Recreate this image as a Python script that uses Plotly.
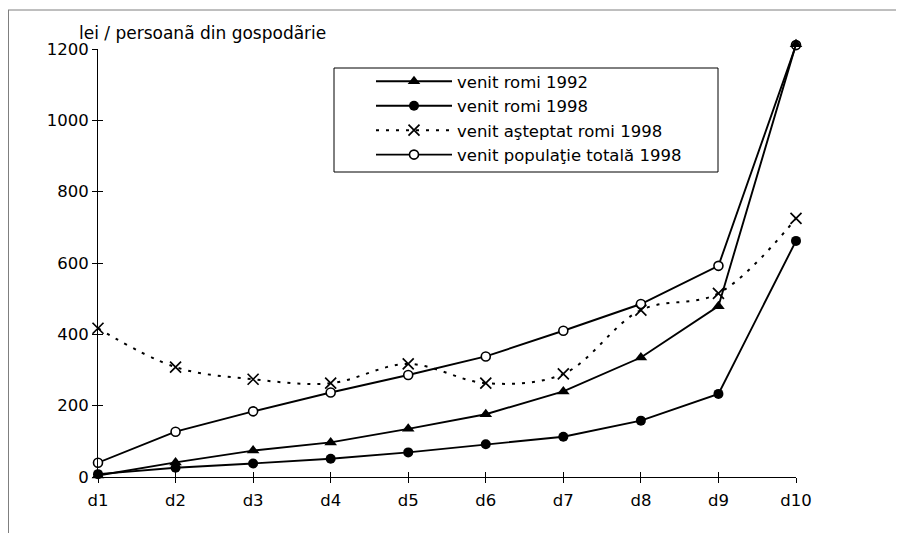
import plotly.graph_objects as go

categories = ["d1", "d2", "d3", "d4", "d5", "d6", "d7", "d8", "d9", "d10"]
venit_romi_1992 = [4, 41, 74, 97, 135, 176, 240, 335, 479, 1213]
venit_romi_1998 = [8, 26, 38, 51, 69, 92, 113, 158, 233, 662]
venit_asteptat_romi_1998 = [417, 308, 274, 263, 317, 263, 289, 468, 515, 725]
venit_populatie_totala_1998 = [40, 127, 184, 237, 286, 338, 410, 485, 592, 1211]
y_ticks = [0, 200, 400, 600, 800, 1000, 1200]
y_max = 1200

FONT = "DejaVu Sans, sans-serif"
FS = 16.5

# plot-area geometry (figure pixels)
L, R, T, B = 90, 116, 27, 64
W, H = 904, 533
PW = W - L - R
PH = H - T - B
AX_H = 428  # pixel height of 0..1200
top_val = y_max * PH / AX_H


def px(xp):
    return (xp - L) / PW


def py(yp):
    return (H - B - yp) / PH


fig = go.Figure()

fig.add_trace(go.Scatter(
    x=categories, y=venit_populatie_totala_1998, name="venit populaţie totală 1998",
    mode="lines+markers", line=dict(color="black", width=1.9),
    marker=dict(symbol="circle", size=9, color="white", line=dict(color="black", width=1.6)),
    cliponaxis=False, legendrank=4))
fig.add_trace(go.Scatter(
    x=categories, y=venit_romi_1992, name="venit romi 1992",
    mode="lines+markers", line=dict(color="black", width=1.9),
    marker=dict(symbol="triangle-up", size=11, color="black"),
    cliponaxis=False, legendrank=1))
fig.add_trace(go.Scatter(
    x=categories, y=venit_romi_1998, name="venit romi 1998",
    mode="lines+markers", line=dict(color="black", width=1.9),
    marker=dict(symbol="circle", size=10, color="black"),
    cliponaxis=False, legendrank=2))
fig.add_trace(go.Scatter(
    x=categories, y=venit_asteptat_romi_1998, name="venit aşteptat romi 1998",
    mode="lines+markers", line=dict(color="black", width=2, dash="3px,7px", shape="spline", smoothing=1),
    marker=dict(symbol="x-thin-open", size=11, color="black", line=dict(color="black", width=1.7)),
    cliponaxis=False, legendrank=3))

# empty traces to hold the visible value axis and the inner halves of crossing ticks
fig.add_trace(go.Scatter(x=[], y=[], xaxis="x", yaxis="y2", showlegend=False, hoverinfo="skip"))
fig.add_trace(go.Scatter(x=[], y=[], xaxis="x2", yaxis="y3", showlegend=False, hoverinfo="skip"))

tick_common = dict(tickcolor="black", tickwidth=1, ticklen=5, showgrid=False, zeroline=False)

fig.update_layout(
    width=W, height=H,
    margin=dict(l=L, r=R, t=T, b=B),
    paper_bgcolor="white", plot_bgcolor="rgba(0,0,0,0)",
    font=dict(family=FONT, size=FS, color="black"),
    showlegend=True,
    legend=dict(
        x=px(363), y=py(56), xanchor="left", yanchor="top",
        borderwidth=0, bgcolor="rgba(0,0,0,0)",
        font=dict(family=FONT, size=FS, color="black"),
        itemwidth=76, tracegroupgap=0,
    ),
    xaxis=dict(
        type="category", categoryorder="array", categoryarray=categories,
        range=[0, 9], showline=True, linecolor="black", linewidth=1,
        ticks="outside", tickfont=dict(size=FS), ticklabelstandoff=3, **tick_common,
    ),
    yaxis=dict(range=[0, top_val], visible=False),
    yaxis2=dict(
        range=[0, y_max], domain=[0, AX_H / PH], anchor="x", tickvals=y_ticks,
        showline=True, linecolor="black", linewidth=1,
        ticks="outside", tickfont=dict(size=FS), **tick_common,
    ),
    xaxis2=dict(
        type="category", categoryorder="array", categoryarray=categories,
        range=[0, 9], overlaying="x", anchor="y", ticks="inside",
        showticklabels=False, showline=False, **tick_common,
    ),
    yaxis3=dict(
        range=[0, y_max], tickvals=y_ticks, overlaying="y2", anchor="x", ticks="inside",
        showticklabels=False, showline=False, **tick_common,
    ),
    hovermode=False,
)

fig.add_annotation(
    text="lei / persoanã din gospodãrie", xref="paper", yref="paper",
    x=px(69), y=py(25), xanchor="left", yanchor="middle",
    showarrow=False, font=dict(family=FONT, size=17, color="black"),
)

# legend frame
fig.add_shape(type="rect", xref="paper", yref="paper",
              x0=px(326), x1=px(710), y0=py(164), y1=py(60),
              line=dict(color="black", width=1), fillcolor="rgba(0,0,0,0)", layer="above")

# outer frame (top and left edges of the source figure)
fig.add_shape(type="line", xref="paper", yref="paper", x0=px(0), x1=px(W), y0=py(2), y1=py(2),
              line=dict(color="#7f7f7f", width=1))
fig.add_shape(type="line", xref="paper", yref="paper", x0=px(0.5), x1=px(0.5), y0=py(2), y1=py(H),
              line=dict(color="#7f7f7f", width=1))

fig.write_html("out.html")
